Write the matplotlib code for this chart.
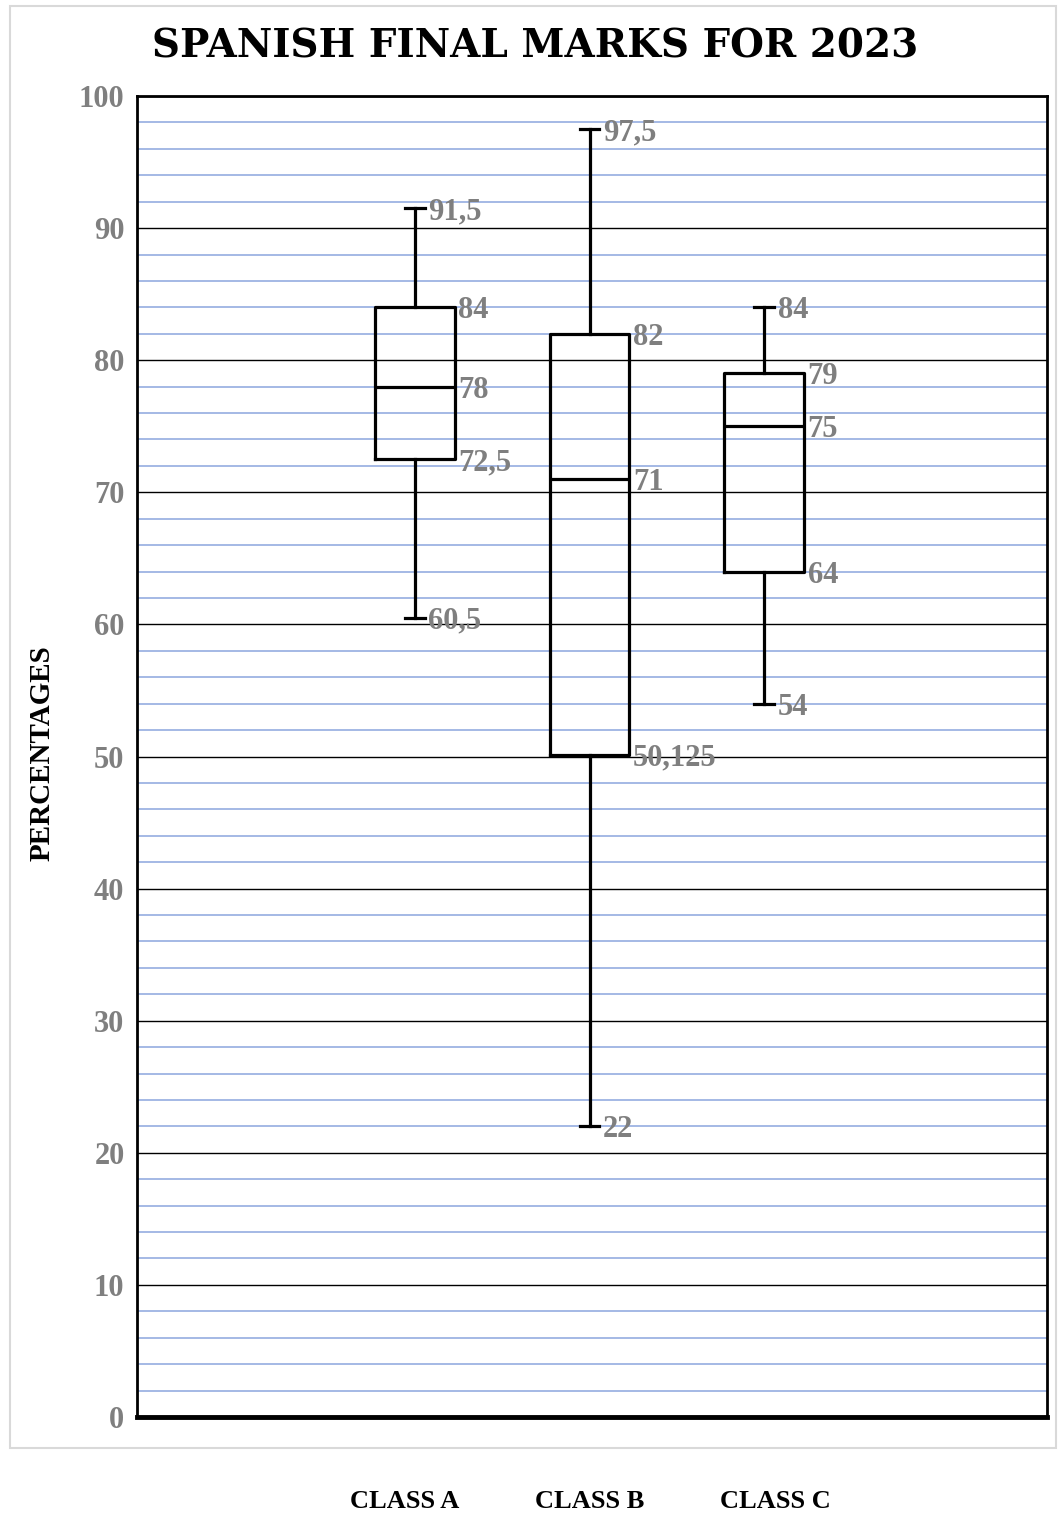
import matplotlib
matplotlib.use("Agg")
import matplotlib.pyplot as plt
from matplotlib.patches import Rectangle

classes = ["CLASS A", "CLASS B", "CLASS C"]
minimum = [60.5, 22, 54]
q1 = [72.5, 50.125, 64]
median = [78, 71, 75]
q3 = [84, 82, 79]
maximum = [91.5, 97.5, 84]
y_ticks = [0, 10, 20, 30, 40, 50, 60, 70, 80, 90, 100]

SERIF = ["Liberation Serif", "DejaVu Serif"]
GREY = "#7f7f7f"

W, H = 1058, 1515
fig = plt.figure(figsize=(W / 100, H / 100), dpi=100)

# outer chart border
fig.patches.append(Rectangle((10 / W, 1 - 1448 / H), (1056 - 10) / W, (1448 - 6) / H,
                             transform=fig.transFigure, fill=False,
                             edgecolor="#d9d9d9", lw=1.5))

ax = fig.add_axes([137 / W, 1 - 1417 / H, (1047 - 137) / W, (1417 - 96) / H])

positions = [1, 2, 3]
box_w = 80 / 175
cap_w = 20 / 175

stats = []
for i in range(len(classes)):
    stats.append(dict(med=median[i], q1=q1[i], q3=q3[i],
                      whislo=minimum[i], whishi=maximum[i],
                      fliers=[], label=classes[i]))

lw = 2.3
ax.bxp(stats, positions=positions, widths=box_w, capwidths=cap_w,
       showfliers=False, manage_ticks=False,
       boxprops=dict(color="black", lw=lw),
       whiskerprops=dict(color="black", lw=lw),
       capprops=dict(color="black", lw=lw),
       medianprops=dict(color="black", lw=lw),
       zorder=3)

ax.set_xlim(1 - (415 - 137) / 175, 3 + (1047 - 764) / 175)
ax.set_ylim(0, 100)

# gridlines
ax.set_yticks(y_ticks)
ax.set_yticks([v for v in range(0, 101, 2)], minor=True)
ax.grid(which="minor", axis="y", color="#9db3e3", lw=1.3, zorder=1)
ax.grid(which="major", axis="y", color="black", lw=1.0, zorder=2)
ax.set_axisbelow(True)

ax.set_xticks([])
ax.tick_params(axis="y", which="both", length=0, pad=9)
ax.set_yticklabels([str(v) for v in y_ticks], fontfamily=SERIF,
                   fontweight="bold", fontsize=22, color=GREY)

for s in ["left", "right", "top"]:
    ax.spines[s].set_linewidth(2.0)
    ax.spines[s].set_color("black")
ax.spines["bottom"].set_linewidth(3.5)
ax.spines["bottom"].set_color("black")


def fmt(v):
    return f"{v:g}".replace(".", ",")


lab_kw = dict(textcoords="offset points", ha="left", va="center",
              fontfamily=SERIF, fontweight="bold", fontsize=22, color=GREY,
              zorder=5)
for i, p in enumerate(positions):
    for v in (q1[i], median[i], q3[i]):
        ax.annotate(fmt(v), xy=(p + box_w / 2, v), xytext=(2.5, -2.5), **lab_kw)
    for v in (minimum[i], maximum[i]):
        ax.annotate(fmt(v), xy=(p + cap_w / 2, v), xytext=(2.5, -2.5), **lab_kw)

fig.text(535 / W, 1 - 46 / H, "SPANISH FINAL MARKS FOR 2023", ha="center", va="center",
         fontfamily=["DejaVu Serif"], fontweight="bold", fontsize=28, color="black")
fig.text(42 / W, 1 - 753 / H, "PERCENTAGES", rotation=90, ha="center", va="center",
         fontfamily=SERIF, fontweight="bold", fontsize=21, color="black")

label_x = [405, 590, 775]
for x, c in zip(label_x, classes):
    fig.text(x / W, 1 - 1502 / H, c, ha="center", va="center",
             fontfamily=SERIF, fontweight="bold", fontsize=19, color="black")

fig.savefig("out.png", dpi=100)
